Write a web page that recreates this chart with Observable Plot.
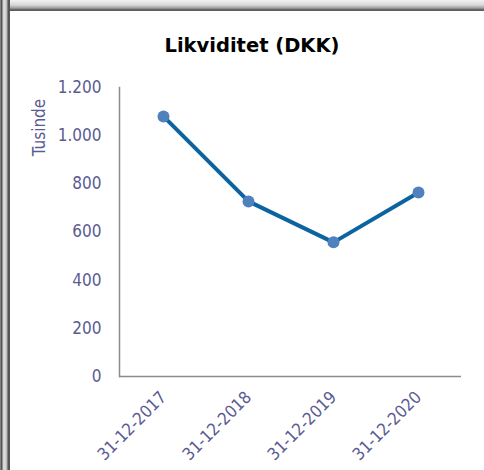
<!DOCTYPE html>
<html>
<head>
<meta charset="utf-8">
<script src="https://cdn.jsdelivr.net/npm/d3@7"></script>
<script src="https://cdn.jsdelivr.net/npm/@observablehq/plot@0.6"></script>
<style>
  html, body { margin: 0; padding: 0; background: #fff; }
  #wrap { position: relative; width: 484px; height: 470px; overflow: hidden; background: #fff; }
  #topbar { position: absolute; left: 0; top: 0; width: 484px; height: 11px;
    background: linear-gradient(to bottom, #f2f2f2 0px, #d8d8d8 5px, #a0a0a0 8px, #555 10px, #666 11px); }
  #leftbar { position: absolute; left: 0; top: 0; width: 10px; height: 470px;
    background: linear-gradient(to right, #aaa 0px, #555 1px, #555 2px, #d0d0d0 3px, #e0e0e0 5px, #b0b0b0 7px, #555 8px, #555 10px); }
  #title { position: absolute; left: 10px; width: 484px; top: 34px; text-align: center;
    font-family: "DejaVu Sans", sans-serif;
    font-weight: bold; font-size: 19.5px; color: #000; }
  #chart { position: absolute; left: 0; top: 0; }
</style>
</head>
<body>
<div id="wrap">
  <div id="chart"></div>
  <div id="topbar"></div>
  <div id="leftbar"></div>
  <div id="title">Likviditet (DKK)</div>
</div>
<script>
const categories = ["31-12-2017", "31-12-2018", "31-12-2019", "31-12-2020"];
const values = [1080, 727, 557, 764];
const yTicks = [0, 200, 400, 600, 800, 1000, 1200];
const yLabel = "Tusinde";

const data = categories.map((c, i) => ({ date: c, value: values[i] }));
const fmt = d3.formatLocale({ decimal: ",", thousands: ".", grouping: [3], currency: ["", ""] }).format(",");
const textColor = "#5b5b94";

const plot = Plot.plot({
  width: 484,
  height: 470,
  marginLeft: 119,
  marginRight: 23,
  marginTop: 87,
  marginBottom: 94,
  style: { fontFamily: "'DejaVu Sans Condensed', 'DejaVu Sans', sans-serif", fontSize: "17px", background: "transparent", overflow: "visible" },
  x: { type: "point", domain: categories, padding: 0.5 },
  y: { domain: [0, 1200] },
  marks: [
    Plot.frame({ anchor: "left", stroke: "#8c8c8c", strokeWidth: 1.5 }),
    Plot.ruleY([0], { stroke: "#8c8c8c", strokeWidth: 1.5 }),
    Plot.axisY({ ticks: yTicks, tickFormat: fmt, tickSize: 0, tickPadding: 18, fill: textColor, fontSize: 17, label: null }),
    Plot.text([yLabel], { frameAnchor: "left", textAnchor: "middle", dx: -80, dy: -104.5, rotate: -90, fill: textColor, fontSize: 17 }),
    Plot.axisX({ tickSize: 0, tickRotate: -45, tickPadding: 18, fill: textColor, fontSize: 17, label: null }),
    Plot.line(data, { x: "date", y: "value", stroke: "#0b64a0", strokeWidth: 4 }),
    Plot.dot(data, { x: "date", y: "value", r: 6, fill: "#4f81bd", stroke: "none" })
  ]
});
document.getElementById("chart").appendChild(plot);
</script>
</body>
</html>
